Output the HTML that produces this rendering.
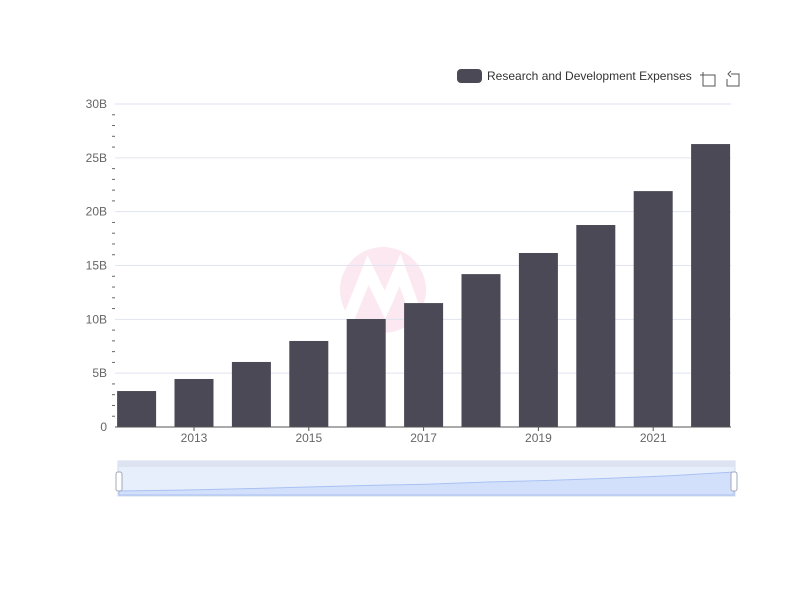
<!DOCTYPE html>
<html><head><meta charset="utf-8"><style>
body{margin:0;background:#fff;}
svg{display:block;font-family:"Liberation Sans",sans-serif;}
</style></head><body>
<svg id="chart" width="800" height="600">
<g opacity="0.15">
<circle cx="383" cy="290" r="43" fill="#e86aa0"/>
<path d="M348 320 L368 270 L385 305 L400 270 L418 320" stroke="#fff" stroke-width="12" fill="none"/>
</g>
<g id="grid"></g><g id="bars"></g><g id="axes"></g>
<g>
<rect x="457" y="69" width="25" height="14" rx="4" fill="#4a4955"/>
<text x="487" y="80" font-size="12" fill="#333">Research and Development Expenses</text>
</g>
<g stroke="#555" fill="none" stroke-width="1">
<path d="M703 72 V86 H715 V75 H706 M700 75 H706 M703 72 V78"/>
</g>
<g stroke="#555" fill="none" stroke-width="1">
<path d="M731 74 H739 V86 H727 V79 M731 71 L728 74 L731 77"/>
</g>
<g>
<rect x="118" y="461" width="617" height="35" fill="#e8effc" stroke="#d2dbee"/>
<rect x="118" y="461" width="617" height="6" fill="#dde3f1"/>
<path id="zoomArea" fill="#d3e0fb" stroke="#a9c1f3"/>
<rect x="116" y="472" width="6" height="19" rx="2" fill="#fff" stroke="#a0a8b8"/>
<rect x="731" y="472" width="6" height="19" rx="2" fill="#fff" stroke="#a0a8b8"/>
</g>
</svg>
<script>
const years=[2012,2013,2014,2015,2016,2017,2018,2019,2020,2021,2022];
const values=[3.34,4.46,6.04,7.99,10.03,11.51,14.2,16.16,18.76,21.91,26.28];
const yTicks=[0,5,10,15,20,25,30];
const yTickLabels=["0","5B","10B","15B","20B","25B","30B"];
const xLabelYears=[2013,2015,2017,2019,2021];
const NS="http://www.w3.org/2000/svg";
const y0=427,y1=104,xL=115,xR=731;
const ys=v=>y0-(v/30)*(y0-y1);
const xs=yr=>136.6+(yr-2012)*57.4;
function mk(t,a,p){const e=document.createElementNS(NS,t);for(const k in a)e.setAttribute(k,a[k]);p.appendChild(e);return e;}
const grid=document.getElementById('grid'),bars=document.getElementById('bars'),axes=document.getElementById('axes');
yTicks.forEach((t,i)=>{
 if(t>0){const l=mk('line',{x1:xL,x2:xR,y1:ys(t),y2:ys(t),stroke:'#e0e3f0'},grid);
 
 }
 const tx=mk('text',{x:107,y:ys(t)+4,'text-anchor':'end','font-size':12,fill:'#666'},axes);tx.textContent=yTickLabels[i];
 
 
});
for(let v=1;v<30;v++){if(v%5===0)continue;const m=mk('line',{x1:112,x2:115,y1:ys(v),y2:ys(v),stroke:'#666'},axes);
 
 }
values.forEach((v,i)=>{const b=mk('rect',{x:xs(years[i])-19.5,y:ys(v),width:39,height:y0-ys(v),fill:'#4a4955'},bars);
 
 });
const ax=mk('line',{x1:xL,x2:xR,y1:y0,y2:y0,stroke:'#555'},axes);


xLabelYears.forEach(yr=>{mk('line',{x1:xs(yr),x2:xs(yr),y1:y0,y2:y0+4,stroke:'#555'},axes);
 const t=mk('text',{x:xs(yr),y:y0+15,'text-anchor':'middle','font-size':12,fill:'#666'},axes);t.textContent=yr;
 
 });
const zx0=119,zx1=734,zb=495,zt=472,vmax=Math.max(...values),vmin=Math.min(...values);
let d='M'+zx0+' '+zb;
values.forEach((v,i)=>{d+=' L'+(zx0+i*(zx1-zx0)/(values.length-1))+' '+(zb-4-(v-vmin)/(vmax-vmin)*(zb-4-zt));});
d+=' L'+zx1+' '+zb+' Z';
document.getElementById('zoomArea').setAttribute('d',d);
</script>
</body></html>
